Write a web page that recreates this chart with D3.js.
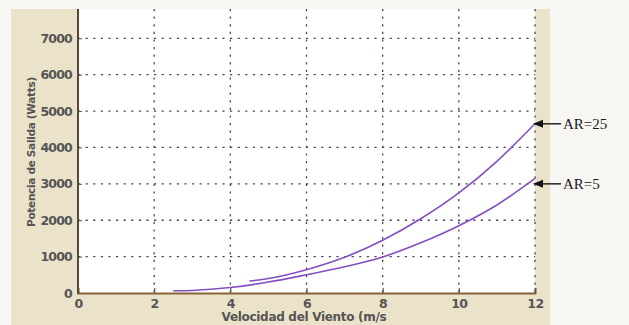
<!DOCTYPE html>
<html><head><meta charset="utf-8">
<script src="https://cdn.jsdelivr.net/npm/d3@7"></script>
<style>html,body{margin:0;padding:0;background:#f7f6f2;}svg{display:block;}</style>
</head><body>
<script>
const xTicks = [0, 2, 4, 6, 8, 10, 12];
const yTicks = [0, 1000, 2000, 3000, 4000, 5000, 6000, 7000];
const ar25X = [4.5, 5, 6, 7, 8, 9, 10, 11, 12];
const ar25Y = [330, 400, 640, 980, 1450, 2040, 2750, 3620, 4650];
const ar5X = [2.5, 3, 4, 5, 6, 7, 8, 9, 10, 11, 12];
const ar5Y = [60, 70, 150, 300, 500, 720, 990, 1380, 1850, 2420, 3150];
const seriesLabels = ["AR=25", "AR=5"];
const xLabel = "Velocidad del Viento (m/s";
const yLabel = "Potencia de Salida (Watts)";

const W = 629, H = 325;
const svg = d3.select("body").append("svg").attr("width", W).attr("height", H);
const sans = "DejaVu Sans, Verdana, sans-serif";

// background / frame
svg.append("rect").attr("x", 0).attr("y", 0).attr("width", W).attr("height", H).attr("fill", "#f7f6f2");
svg.append("rect").attr("x", 11).attr("y", 9).attr("width", 539).attr("height", H - 9).attr("fill", "#ebe2ca");

const x = d3.scaleLinear().domain([0, 12]).range([78, 535]);
const y = d3.scaleLinear().domain([0, 7000]).range([293, 38.3]);
const plotTop = 9;

svg.append("rect").attr("x", x(0)).attr("y", plotTop).attr("width", x(12) - x(0)).attr("height", y(0) - plotTop).attr("fill", "#ffffff");

// grid
const grid = svg.append("g").attr("stroke", "#4e4262").attr("stroke-width", 1.3).attr("stroke-dasharray", "2.2,5.4");
grid.selectAll("line.v").data(xTicks.filter(d => d > 0)).join("line")
  .attr("x1", d => x(d)).attr("x2", d => x(d)).attr("y1", plotTop).attr("y2", y(0));
grid.selectAll("line.h").data(yTicks.filter(d => d > 0)).join("line")
  .attr("x1", x(0)).attr("x2", x(12)).attr("y1", d => y(d)).attr("y2", d => y(d));

// curves
const line = d3.line().x(d => x(d[0])).y(d => y(d[1])).curve(d3.curveMonotoneX);
const s25 = ar25X.map((v, i) => [v, ar25Y[i]]);
const s5 = ar5X.map((v, i) => [v, ar5Y[i]]);
[s25, s5].forEach(s => {
  svg.append("path").datum(s).attr("d", line).attr("fill", "none")
    .attr("stroke", "#8450c0").attr("stroke-width", 1.6);
});

// axes
const xAxis = svg.append("g").attr("transform", `translate(0,${y(0)})`)
  .call(d3.axisBottom(x).tickValues(xTicks).tickSize(-5).tickPadding(6).tickFormat(d3.format("d")));
xAxis.select(".domain").attr("stroke", "#8b6238").attr("stroke-width", 2);
xAxis.selectAll(".tick line").attr("stroke", "#6b5040").attr("stroke-width", 1.2);
xAxis.selectAll("text").attr("fill", "#555").attr("font-family", sans).attr("font-size", 12.5).attr("font-weight", "bold").attr("letter-spacing", "-0.5");

const yAxis = svg.append("g").attr("transform", `translate(${x(0)},0)`)
  .call(d3.axisLeft(y).tickValues(yTicks).tickSize(-4).tickPadding(6).tickFormat(d3.format("d")));
yAxis.select(".domain").remove();
yAxis.selectAll(".tick line").attr("stroke", "#6b5040");
yAxis.selectAll("text").attr("fill", "#555").attr("font-family", sans).attr("font-size", 12.5).attr("font-weight", "bold").attr("letter-spacing", "-0.8");
svg.append("line").attr("x1", x(0)).attr("x2", x(0)).attr("y1", plotTop).attr("y2", y(0) + 1)
  .attr("stroke", "#5a4638").attr("stroke-width", 2);

// axis labels
svg.append("text").attr("x", 304).attr("y", 321).attr("text-anchor", "middle")
  .attr("fill", "#555").attr("font-family", sans).attr("font-size", 12).attr("font-weight", "bold").attr("letter-spacing", "-0.3").text(xLabel);
svg.append("text").attr("transform", "translate(35,152) rotate(-90)").attr("text-anchor", "middle")
  .attr("fill", "#555").attr("font-family", sans).attr("font-size", 10.5).attr("font-weight", "bold").attr("letter-spacing", "-0.3").text(yLabel);

// annotations
const ends = [s25[s25.length - 1], [12, 3000]];
ends.forEach((e, i) => {
  const yy = y(e[1]);
  svg.append("line").attr("x1", x(12) + 5).attr("x2", x(12) + 26).attr("y1", yy).attr("y2", yy)
    .attr("stroke", "#222").attr("stroke-width", 1.5);
  svg.append("path").attr("d", `M${x(12) - 2},${yy} L${x(12) + 8},${yy - 4} L${x(12) + 8},${yy + 4} Z`).attr("fill", "#111");
  svg.append("text").attr("x", x(12) + 28).attr("y", yy + 5).attr("fill", "#1a1a1a")
    .attr("font-family", "Liberation Serif, Times New Roman, serif").attr("font-size", 15).text(seriesLabels[i]);
});
</script>
</body></html>
